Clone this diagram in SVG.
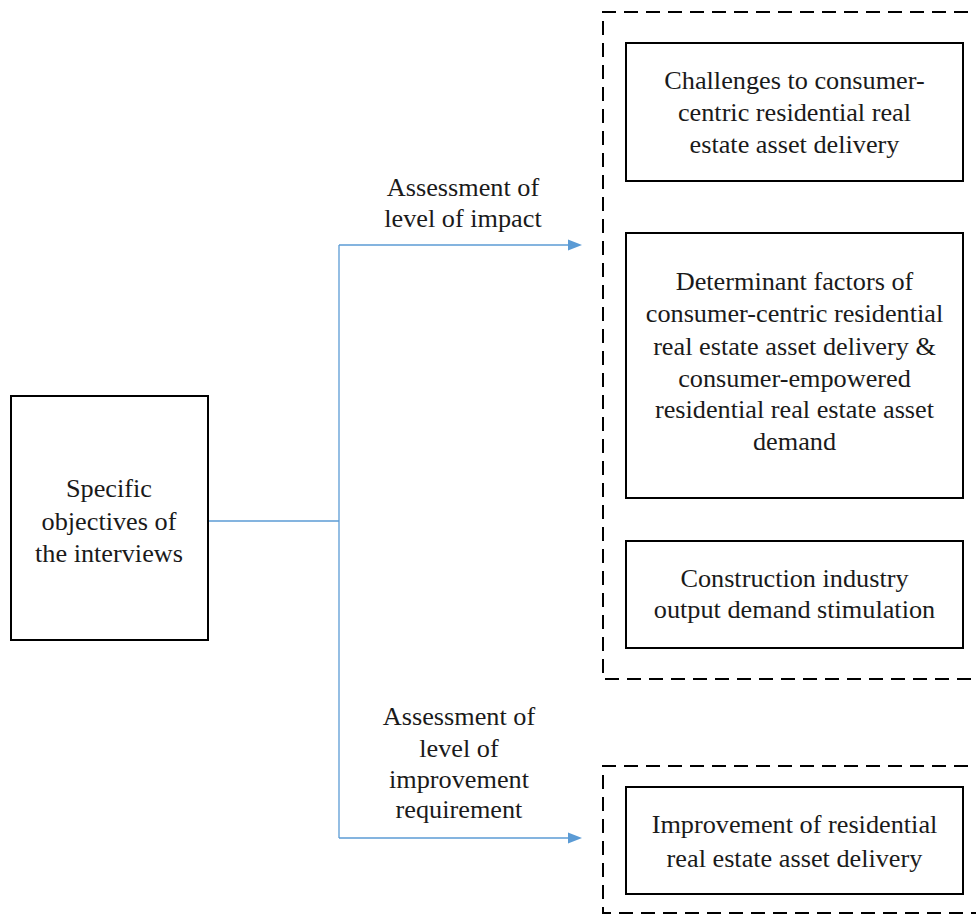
<svg xmlns="http://www.w3.org/2000/svg" width="976" height="914" viewBox="0 0 976 914">
<style>
.box{fill:#fff;stroke:#000;stroke-width:2}
.dash{fill:none;stroke:#000;stroke-width:2;stroke-dasharray:14 8}
.t{font-family:"Liberation Serif","Times New Roman",serif;font-size:25px;fill:#1a1a1a;text-anchor:middle}
.con{fill:none;stroke:#5b9bd5;stroke-width:1.3}
.ah{fill:#5b9bd5}
</style>
<rect width="976" height="914" fill="#fff"/>
<g id="group-impact">
<path class="dash" d="M990 12 H603 V679 H990"/>
</g>
<g id="group-improvement">
<path class="dash" d="M990 766 H603 V913 H990"/>
</g>
<g id="connectors">
<path class="con" d="M208 521 H339"/>
<path class="con" d="M339 245 V838"/>
<path class="con" d="M339 245 H569"/>
<polygon class="ah" points="568,239.5 582,245 568,250.5"/>
<path class="con" d="M339 838 H569"/>
<polygon class="ah" points="568,832.5 582,838 568,843.5"/>
</g>
<g id="label-impact">
<text class="t" transform="matrix(1.05,0,0,1,-23.15,0)"><tspan x="463" y="196">Assessment of</tspan><tspan x="463" y="227">level of impact</tspan></text>
</g>
<g id="label-improvement">
<text class="t" transform="matrix(1.05,0,0,1,-22.95,0)"><tspan x="459" y="725">Assessment of</tspan><tspan x="459" y="757">level of</tspan><tspan x="459" y="788">improvement</tspan><tspan x="459" y="818">requirement</tspan></text>
</g>
<g id="node-objectives">
<rect class="box" x="11" y="396" width="197" height="244"/>
<text class="t" transform="matrix(1.05,0,0,1,-5.45,0)"><tspan x="109" y="497">Specific</tspan><tspan x="109" y="530">objectives of</tspan><tspan x="109" y="562">the interviews</tspan></text>
</g>
<g id="node-challenges">
<rect class="box" x="626" y="43" width="337" height="138"/>
<text class="t" transform="matrix(1.05,0,0,1,-39.725,0)"><tspan x="794.5" y="89">Challenges to consumer-</tspan><tspan x="794.5" y="121">centric residential real</tspan><tspan x="794.5" y="153">estate asset delivery</tspan></text>
</g>
<g id="node-determinants">
<rect class="box" x="626" y="233" width="337" height="265"/>
<text class="t" transform="matrix(1.05,0,0,1,-39.725,0)"><tspan x="794.5" y="290">Determinant factors of</tspan><tspan x="794.5" y="322">consumer-centric residential</tspan><tspan x="794.5" y="355">real estate asset delivery &amp;</tspan><tspan x="794.5" y="387">consumer-empowered</tspan><tspan x="794.5" y="418">residential real estate asset</tspan><tspan x="794.5" y="450">demand</tspan></text>
</g>
<g id="node-construction">
<rect class="box" x="626" y="541" width="337" height="107"/>
<text class="t" transform="matrix(1.05,0,0,1,-39.725,0)"><tspan x="794.5" y="587">Construction industry</tspan><tspan x="794.5" y="618">output demand stimulation</tspan></text>
</g>
<g id="node-improvement">
<rect class="box" x="626" y="787" width="337" height="107"/>
<text class="t" transform="matrix(1.05,0,0,1,-39.725,0)"><tspan x="794.5" y="833">Improvement of residential</tspan><tspan x="794.5" y="867">real estate asset delivery</tspan></text>
</g>
</svg>
